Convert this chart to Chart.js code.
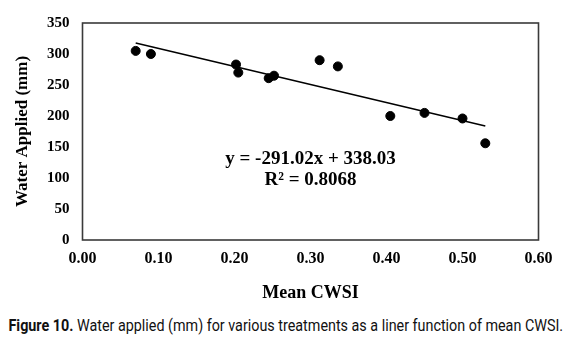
<!DOCTYPE html>
<html>
<head>
<meta charset="utf-8">
<script src="https://cdn.jsdelivr.net/npm/chart.js@4.4.1/dist/chart.umd.min.js"></script>
<style>
  html, body { margin: 0; padding: 0; background: #fff; }
  #wrap { position: relative; width: 572px; height: 352px; overflow: hidden; }
  #box { position: absolute; left: 0; top: 0; width: 572px; height: 305px; }
  #caption { position: absolute; left: 0; top: 315px; width: 572px; display: flex; justify-content: center; white-space: nowrap;
    font-family: "Liberation Sans Narrow", "Roboto", "Liberation Sans", sans-serif; font-size: 17px; line-height: 20px; color: #111; }
  #caption span.inner { display: block; flex: none; transform-origin: center; }
</style>
</head>
<body>
<div id="wrap">
  <div id="box"><canvas id="c"></canvas></div>
  <div id="caption"><span class="inner" id="capInner"><b>Figure 10.</b> Water applied (mm) for various treatments as a liner function of mean CWSI.</span></div>
</div>
<script>
// ---- data ----
const meanCWSI = [0.070, 0.090, 0.202, 0.205, 0.245, 0.252, 0.312, 0.336, 0.405, 0.450, 0.500, 0.530];
const waterApplied = [305, 300, 283, 270, 261, 265, 290, 280, 200, 205, 196, 156];
const xTicks = [0.00, 0.10, 0.20, 0.30, 0.40, 0.50, 0.60];
const yTicks = [0, 50, 100, 150, 200, 250, 300, 350];
const slope = -291.02;
const intercept = 338.03;
const equationText = "y = -291.02x + 338.03";
const r2Text = "R\u00B2 = 0.8068";

const xMinData = Math.min(...meanCWSI);
const xMaxData = Math.max(...meanCWSI);
const trend = [xMinData, xMaxData].map(x => ({ x: x, y: slope * x + intercept }));
const points = meanCWSI.map((x, i) => ({ x: x, y: waterApplied[i] }));

const serif = "'Liberation Serif', 'Times New Roman', serif";

const frame = {
  id: 'frame',
  afterDraw(chart) {
    const { ctx, chartArea: a } = chart;
    ctx.save();
    ctx.strokeStyle = '#3a3a3a';
    ctx.lineWidth = 1.6;
    ctx.strokeRect(a.left, a.top, a.right - a.left, a.bottom - a.top);
    ctx.restore();
  }
};

const equation = {
  id: 'equation',
  afterDatasetsDraw(chart) {
    const { ctx, scales } = chart;
    const px = scales.x.getPixelForValue(0.30);
    ctx.save();
    ctx.fillStyle = '#000';
    ctx.font = "bold 19px " + serif;
    ctx.textAlign = 'center';
    ctx.textBaseline = 'middle';
    ctx.fillText(equationText, px, scales.y.getPixelForValue(130));
    ctx.fillText(r2Text, px, scales.y.getPixelForValue(96));
    ctx.restore();
  }
};

new Chart(document.getElementById('c'), {
  type: 'scatter',
  data: {
    datasets: [
      {
        type: 'line',
        data: trend,
        borderColor: '#000',
        borderWidth: 1.5,
        pointRadius: 0,
        fill: false,
        order: 2
      },
      {
        data: points,
        backgroundColor: '#000',
        borderColor: '#000',
        pointRadius: 4.5,
        pointHoverRadius: 4.5,
        order: 1
      }
    ]
  },
  options: {
    responsive: true,
    maintainAspectRatio: false,
    animation: false,
    events: [],
    layout: { padding: { left: 0, right: 33.5, top: 23, bottom: 0 } },
    plugins: { legend: { display: false }, tooltip: { enabled: false } },
    scales: {
      x: {
        type: 'linear',
        min: 0, max: 0.6,
        afterBuildTicks: s => { s.ticks = xTicks.map(v => ({ value: v })); },
        afterFit: s => { s.height = 65; },
        grid: { display: false, drawTicks: false },
        border: { display: false },
        ticks: {
          color: '#000',
          padding: 9,
          maxRotation: 0,
          font: { family: serif, size: 16, weight: 'bold' },
          callback: v => Number(v).toFixed(2)
        },
        title: {
          display: true,
          text: 'Mean CWSI',
          color: '#000',
          padding: { top: 0, bottom: 1 },
          font: { family: serif, size: 18, weight: 'bold' }
        }
      },
      y: {
        type: 'linear',
        min: 0, max: 350,
        afterBuildTicks: s => { s.ticks = yTicks.map(v => ({ value: v })); },
        afterFit: s => { s.width = 82.5; },
        grid: { display: false, drawTicks: false },
        border: { display: false },
        ticks: {
          color: '#000',
          padding: 13,
          font: { family: serif, size: 15, weight: 'bold' },
          callback: v => String(v)
        },
        title: {
          display: true,
          text: 'Water Applied (mm)',
          color: '#000',
          padding: { top: 12, bottom: 0 },
          font: { family: serif, size: 17, weight: 'bold' }
        }
      }
    }
  },
  plugins: [frame, equation]
});

// fit caption width to ~555px
const cap = document.getElementById('capInner');
const w = cap.offsetWidth;
if (w > 0) cap.style.transform = 'scaleX(' + (555 / w) + ')';
</script>
</body>
</html>
